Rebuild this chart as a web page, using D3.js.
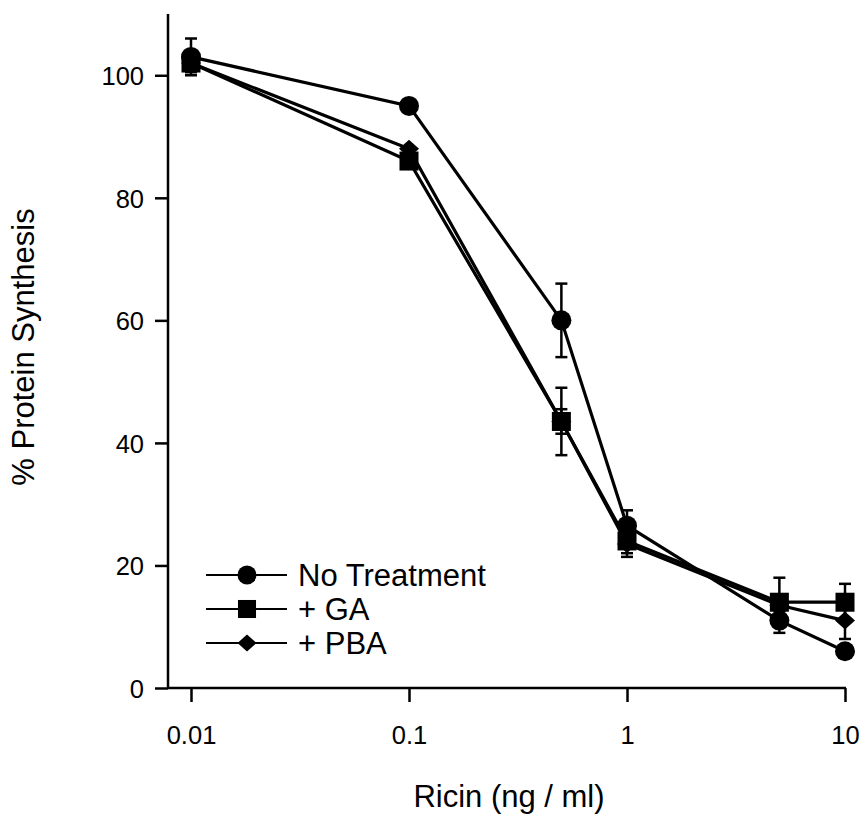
<!DOCTYPE html>
<html>
<head>
<meta charset="utf-8">
<script src="https://cdn.jsdelivr.net/npm/d3@7"></script>
<style>
  body { margin: 0; background: #fff; }
  text { font-family: "Liberation Sans", Arial, sans-serif; fill: #000; }
</style>
</head>
<body>
<div id="chart"></div>
<script>
// ricin dose (ng/ml) and % protein synthesis
const doses = [0.01, 0.1, 0.5, 1, 5, 10];
const noTreatment = [103, 95, 60, 26.5, 11, 6];
const noTreatmentErr = [3, 0, 6, 2.5, 2, 0];
const gaValues = [102, 86, 43.5, 24, 14, 14];
const gaErr = [1.5, 0, 5.5, 2.6, 4, 3];
const pbaValues = [102, 88, 43.5, 23.5, 13.5, 11];
const pbaErr = [1, 0, 2, 1.5, 1, 3];
const seriesNames = ["No Treatment", "+ GA", "+ PBA"];
const xTicks = [0.01, 0.1, 1, 10];
const yTicks = [0, 20, 40, 60, 80, 100];

const width = 865, height = 819;
const axisX = 168, axisY = 688;

const x = d3.scaleLog().domain([0.01, 10]).range([191, 845]);
const y = d3.scaleLinear().domain([0, 110]).range([axisY, 14]);

const svg = d3.select("#chart").append("svg")
    .attr("width", width).attr("height", height);
svg.append("rect").attr("width", width).attr("height", height).attr("fill", "#fff");

const series = [
    {name: seriesNames[0], shape: "circle", values: noTreatment, err: noTreatmentErr},
    {name: seriesNames[1], shape: "square", values: gaValues, err: gaErr},
    {name: seriesNames[2], shape: "diamond", values: pbaValues, err: pbaErr}
].map(s => ({...s, points: doses.map((d, i) => ({x: d, y: s.values[i], e: s.err[i]}))}));

function drawMarker(g, shape, cx, cy, size) {
    if (shape === "circle") {
        g.append("circle").attr("cx", cx).attr("cy", cy).attr("r", size).attr("fill", "#000");
    } else if (shape === "square") {
        const h = size * 0.95;
        g.append("rect").attr("x", cx - h).attr("y", cy - h)
            .attr("width", h * 2).attr("height", h * 2).attr("fill", "#000");
    } else {
        const h = size * 0.9;
        g.append("path").attr("d", `M${cx},${cy - h}L${cx + size},${cy}L${cx},${cy + h}L${cx - size},${cy}Z`)
            .attr("fill", "#000");
    }
}

// axes
const yAxis = d3.axisLeft(y).tickValues(yTicks).tickSize(13).tickPadding(11);
const gy = svg.append("g").attr("transform", `translate(${axisX},0)`).call(yAxis);
gy.select(".domain").remove();
gy.selectAll(".tick line").attr("stroke", "#000").attr("stroke-width", 2.5);
gy.selectAll(".tick text").attr("font-size", 25.5).attr("dy", "0.36em");

const xAxis = d3.axisBottom(x).tickValues(xTicks).tickFormat(d => d3.format("~g")(d))
    .tickSize(14).tickPadding(24);
const gx = svg.append("g").attr("transform", `translate(0,${axisY})`).call(xAxis);
gx.select(".domain").remove();
gx.selectAll(".tick line").attr("stroke", "#000").attr("stroke-width", 2.5);
gx.selectAll(".tick text").attr("font-size", 25.5);

svg.append("line").attr("x1", axisX).attr("x2", axisX).attr("y1", y(0)).attr("y2", y(110))
    .attr("stroke", "#000").attr("stroke-width", 2.5);
svg.append("line").attr("x1", axisX).attr("x2", x(10) + 1).attr("y1", axisY).attr("y2", axisY)
    .attr("stroke", "#000").attr("stroke-width", 2.5);

svg.append("text").attr("x", 509).attr("y", 807).attr("text-anchor", "middle")
    .attr("font-size", 31).text("Ricin (ng / ml)");
svg.append("text").attr("transform", "translate(34,347) rotate(-90)").attr("text-anchor", "middle")
    .attr("font-size", 31).text("% Protein Synthesis");

// lines
const line = d3.line().x(d => x(d.x)).y(d => y(d.y));
const plot = svg.append("g");
series.forEach(s => {
    plot.append("path").datum(s.points).attr("d", line)
        .attr("fill", "none").attr("stroke", "#000").attr("stroke-width", 3.2);
});

// error bars
series.forEach(s => {
    s.points.filter(p => p.e > 0).forEach(p => {
        const cx = x(p.x);
        const g = plot.append("g").attr("stroke", "#000").attr("stroke-width", 2.5);
        g.append("line").attr("x1", cx).attr("x2", cx).attr("y1", y(p.y - p.e)).attr("y2", y(p.y + p.e));
        [p.y - p.e, p.y + p.e].forEach(v => {
            g.append("line").attr("x1", cx - 6).attr("x2", cx + 6).attr("y1", y(v)).attr("y2", y(v));
        });
    });
});

// markers
series.forEach(s => {
    s.points.forEach(p => drawMarker(plot, s.shape, x(p.x), y(p.y), 10));
});

// legend
const legend = svg.append("g");
series.forEach((s, i) => {
    const ly = 575 + i * 34;
    legend.append("line").attr("x1", 206).attr("x2", 287).attr("y1", ly).attr("y2", ly)
        .attr("stroke", "#000").attr("stroke-width", 2.2);
    drawMarker(legend, s.shape, 247, ly, 9.5);
    legend.append("text").attr("x", 298).attr("y", ly).attr("dy", "0.36em")
        .attr("font-size", 31).text(s.name);
});
</script>
</body>
</html>
